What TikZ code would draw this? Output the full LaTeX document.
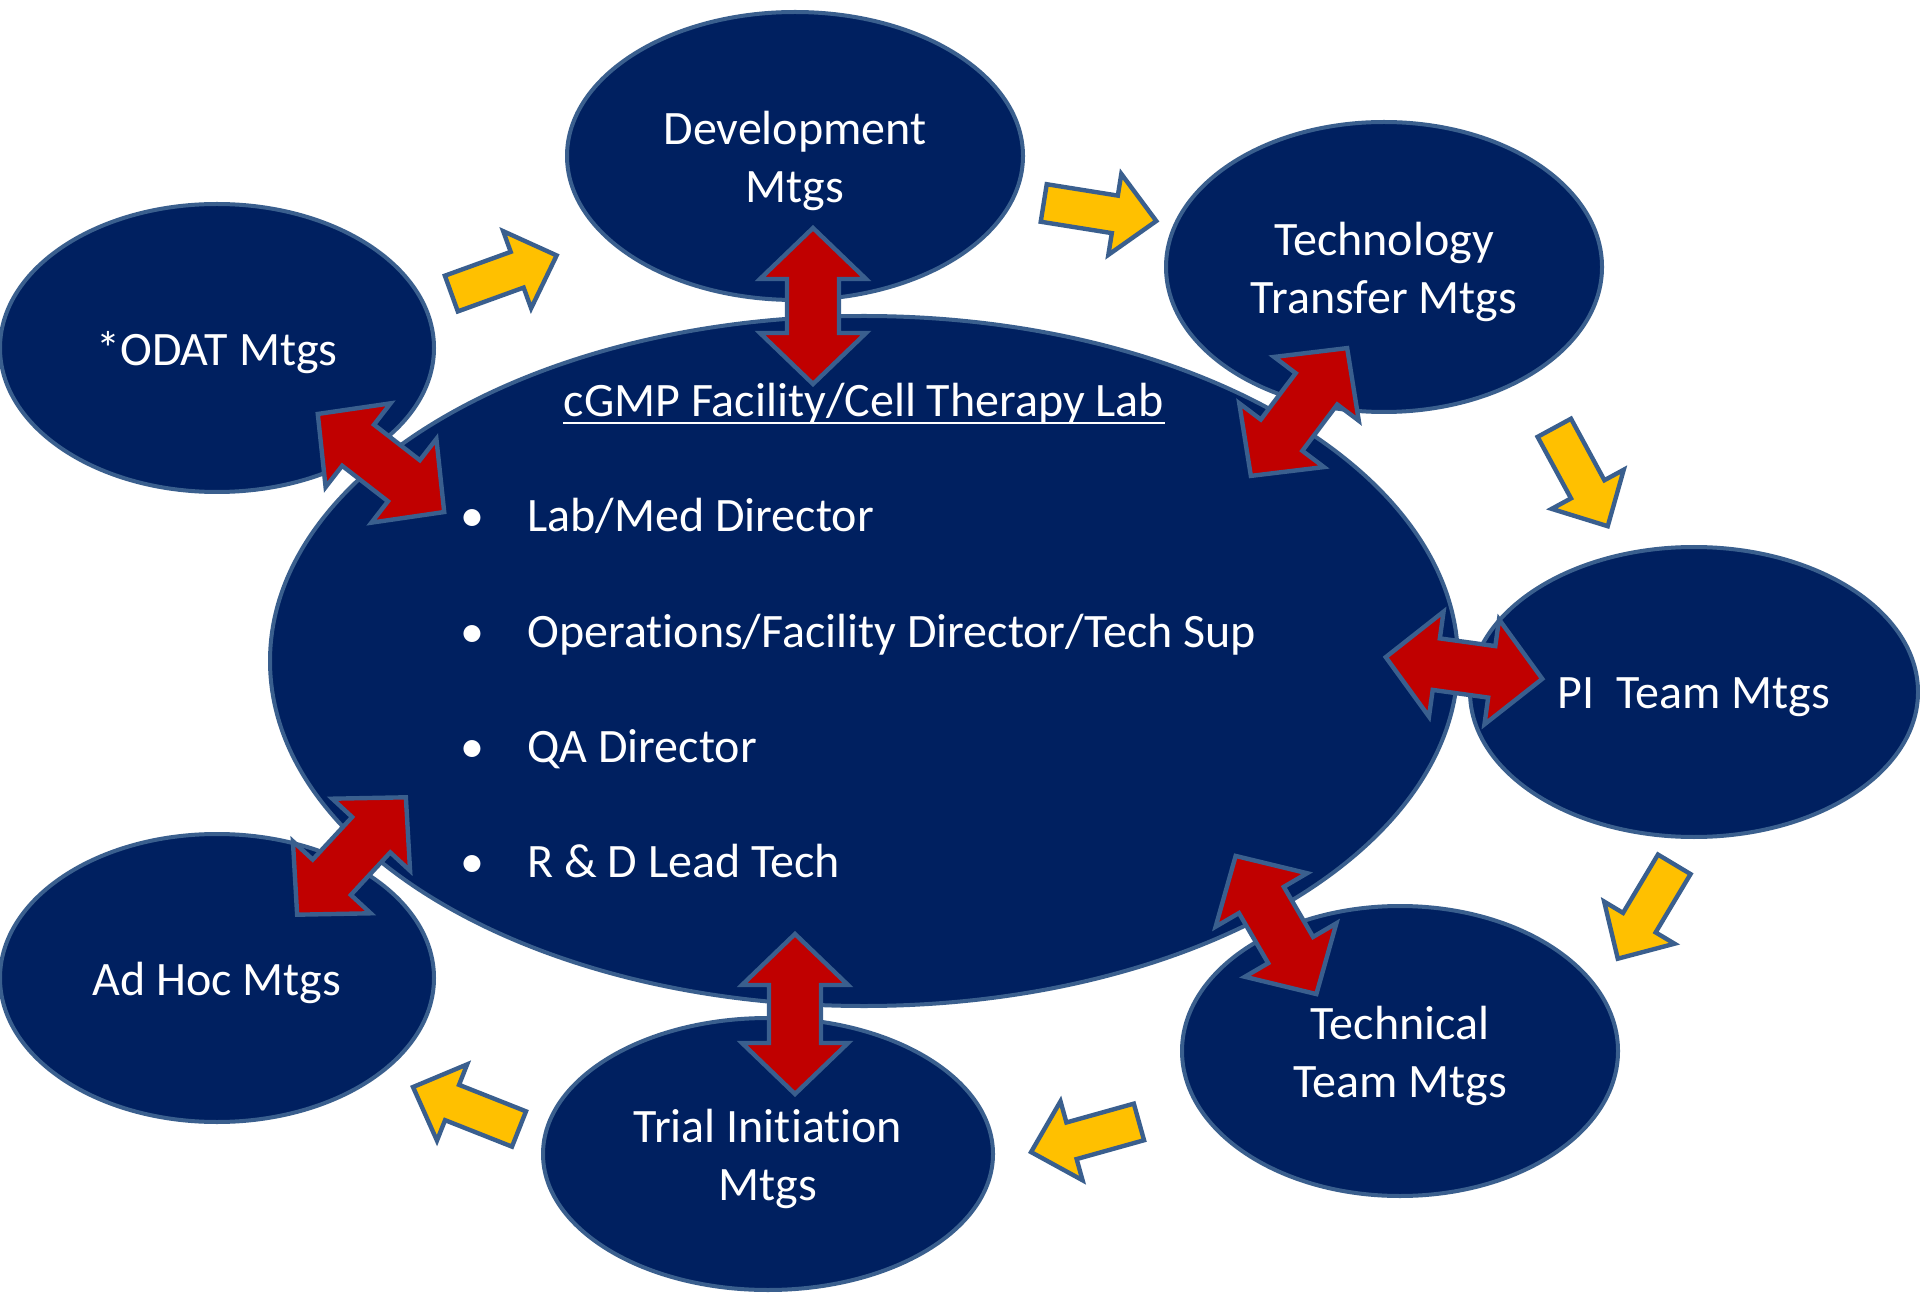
\documentclass[tikz,border=0pt]{standalone}
\usepackage{fontspec}
\setmainfont{Carlito}[Ligatures=NoCommon]
\usetikzlibrary{shapes.geometric}
\definecolor{navy}{HTML}{002060}
\definecolor{rim}{HTML}{3A5F8E}
\definecolor{crimson}{HTML}{C00000}
\definecolor{amber}{HTML}{FFC000}
\begin{document}
\begin{tikzpicture}[x=0.5pt,y=-0.5pt,
  bubble/.style={ellipse, draw=rim, fill=navy, line width=2pt, inner sep=0pt},
  bodytext/.style={text=white, inner sep=0pt, align=center,
    font=\fontsize{24}{29.4}\selectfont},
  redarrow/.style={draw=rim, fill=crimson, line width=2.2pt, line join=miter},
  amberarrow/.style={draw=rim, fill=amber, line width=2.2pt, line join=miter},
  % two-headed block arrow, argument = half length
  pics/twoway/.style={code={
    \draw[redarrow] (#1,0) -- (#1-51,53) -- (#1-51,26) -- (-#1+51,26)
      -- (-#1+51,53) -- (-#1,0) -- (-#1+51,-53) -- (-#1+51,-26)
      -- (#1-51,-26) -- (#1-51,-53) -- cycle;}},
  % one-headed block arrow pointing along +x, argument = half length
  pics/oneway/.style={code={
    \draw[amberarrow] (#1,0) -- (#1-42,41) -- (#1-42,19) -- (-#1,19)
      -- (-#1,-19) -- (#1-42,-19) -- (#1-42,-41) -- cycle;}}
]
\useasboundingbox (0,0) rectangle (1920,1293);

% meeting bubbles
\node[bubble, minimum width=456pt/2, minimum height=288pt/2] (dev) at (795,156) {};
\node[bubble, minimum width=434pt/2, minimum height=288pt/2] (odat) at (217,348) {};
\node[bubble, minimum width=436pt/2, minimum height=290pt/2] (tt) at (1384,267) {};
\node[bubble, minimum width=448pt/2, minimum height=290pt/2] (pi) at (1694,692) {};
\node[bubble, minimum width=436pt/2, minimum height=290pt/2] (tech) at (1400,1051) {};
\node[bubble, minimum width=450pt/2, minimum height=272pt/2] (trial) at (768,1154) {};
\node[bubble, minimum width=434pt/2, minimum height=288pt/2] (adhoc) at (217,978) {};

% central facility
\node[bubble, minimum width=1188pt/2, minimum height=690pt/2] (lab) at (864,661) {};

% bubble captions
\node[bodytext] (devtxt)   at ([yshift=-2.5pt]dev.center)   {Development\\Mtgs};
\node[bodytext] (odattxt)  at ([yshift=-2.5pt]odat.center)  {*ODAT Mtgs};
\node[bodytext] (tttxt)    at ([yshift=-2.5pt]tt.center)    {Technology\\Transfer Mtgs};
\node[bodytext] (pitxt)    at ([yshift=-2.5pt]pi.center)    {PI\ \ Team Mtgs};
\node[bodytext] (techtxt)  at ([yshift=-2.5pt]tech.center)  {Technical\\Team Mtgs};
\node[bodytext] (trialtxt) at ([yshift=-2.5pt]trial.center) {Trial Initiation\\Mtgs};
\node[bodytext] (adhoctxt) at ([yshift=-2.5pt]adhoc.center) {Ad Hoc Mtgs};

\node[bodytext, anchor=base] (title) at (864,417) {cGMP Facility/Cell Therapy Lab};
\draw[white, line width=1.4pt] ([yshift=-3pt]title.base west) -- ([yshift=-3pt]title.base east);

\node[bodytext, anchor=base] (b1) at (472,532) {•};
\node[bodytext, anchor=base west] (t1) at (527,532) {Lab/Med Director};
\node[bodytext, anchor=base] (b2) at (472,647) {•};
\node[bodytext, anchor=base west] (t2) at (527,647) {Operations/Facility Director/Tech Sup};
\node[bodytext, anchor=base] (b3) at (472,762) {•};
\node[bodytext, anchor=base west] (t3) at (527,762) {QA Director};
\node[bodytext, anchor=base] (b4) at (472,877) {•};
\node[bodytext, anchor=base west] (t4) at (527,877) {R \& D Lead Tech};

% two-way links between the facility and each meeting
\pic[rotate=90]    at (813,306)    {twoway=78};
\pic[rotate=-37.8] at (381,463)    {twoway=80};
\pic[rotate=53]    at (1299,412)   {twoway=80};
\pic[rotate=-7.9]  at (1464,668)   {twoway=79};
\pic[rotate=-59.7] at (1276,925)   {twoway=80};
\pic[rotate=90]    at (795,1014)   {twoway=80};
\pic[rotate=47.2]  at (351.5,856)  {twoway=80};

% clockwise flow between meetings
\pic[rotate=19.9]   at (504,274.5)  {oneway=56};
\pic[rotate=-9.1]   at (1100,212)   {oneway=57};
\pic[rotate=-61.5]  at (1581,477)   {oneway=56};
\pic[rotate=-120.9] at (1646,911.5) {oneway=55};
\pic[rotate=-164.4] at (1085,1137)  {oneway=56};
\pic[rotate=158.4]  at (466,1108)   {oneway=57};
\end{tikzpicture}
\end{document}
